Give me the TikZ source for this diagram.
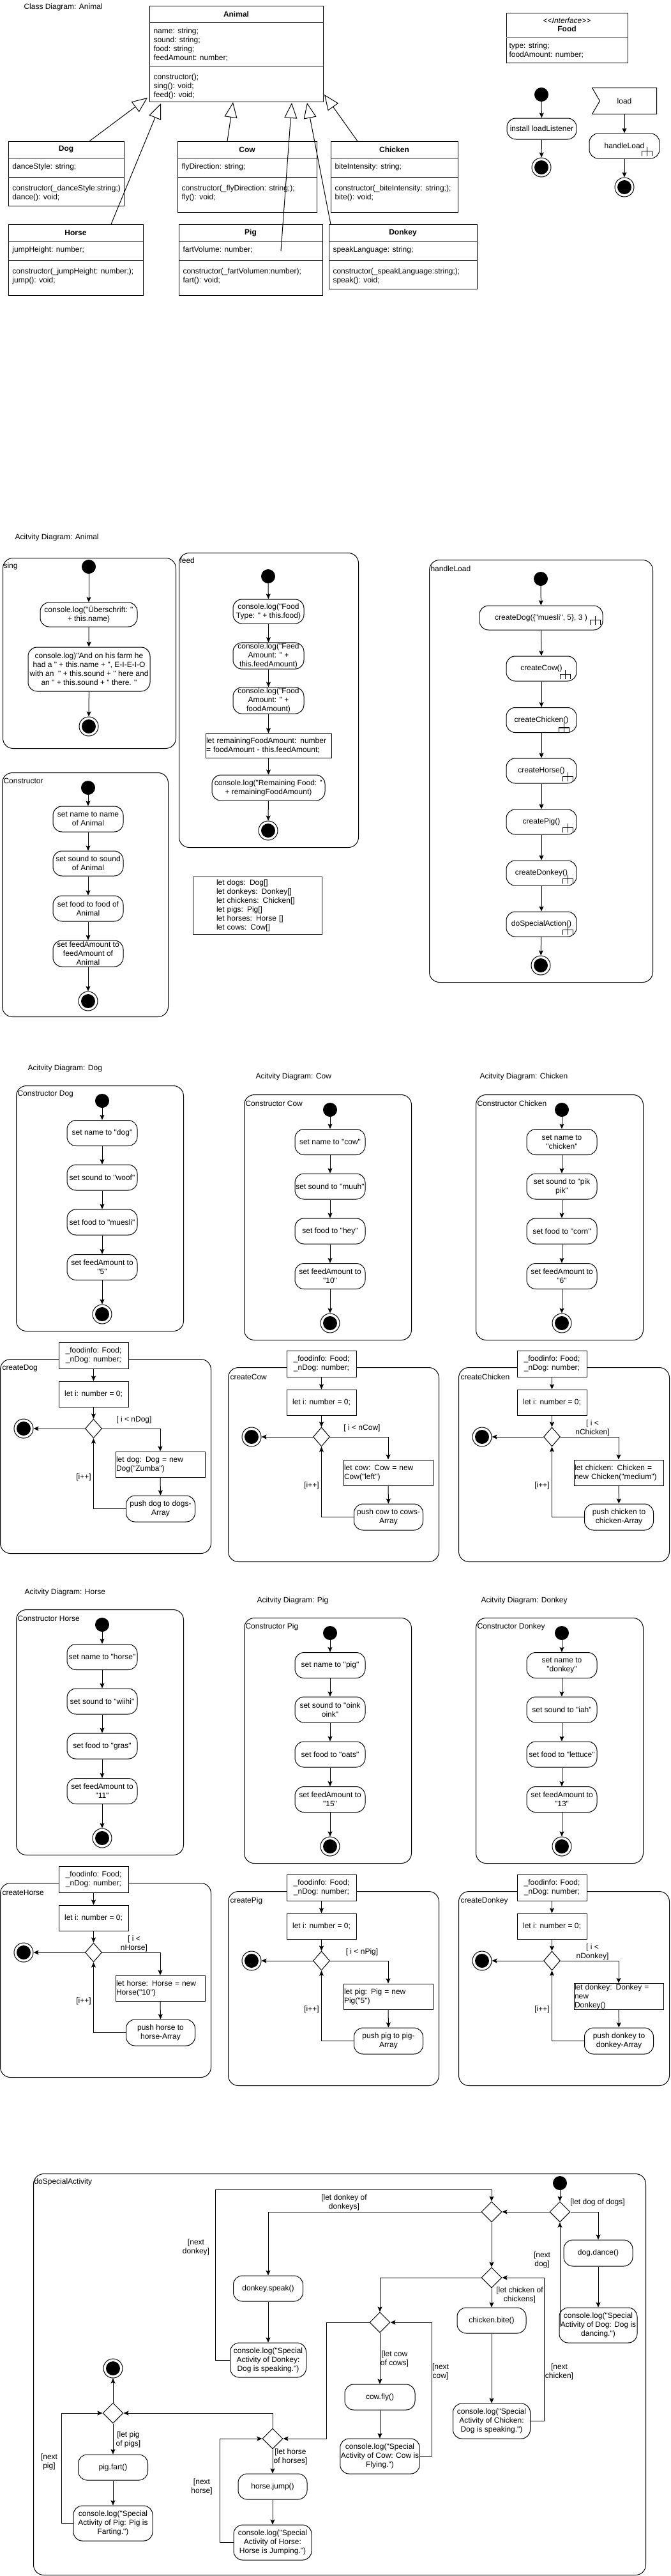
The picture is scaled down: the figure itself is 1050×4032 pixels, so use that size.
\documentclass[tikz,border=0pt]{standalone}
\usepackage{fontspec}
\newfontfamily\uifont{Liberation Sans}
\usetikzlibrary{arrows.meta,calc,shapes.geometric}

\newcommand\rakeat[1]{%
  \draw[line width=1.4pt] ($(#1)+(-8,0)$) -- ++(0,-7) -- ++(16,0) -- ++(0,7);
  \draw[line width=1.4pt] (#1) -- ++(0,-14);}

\newcommand\ctorblock[8]{%
  \node[frm, minimum width=262pt, minimum height=384pt, anchor=north west] (#1F) at (#2,#3) {};
  \node[anchor=west, inner sep=0] (#1L) at ({#2+2},{#3+14}) {#4};
  \node[startn] (#1S) at ({#2+135},{#3+24}) {};
  \node[act, minimum width=110pt, minimum height=40pt] (#1A) at ({#2+135},{#3+74.5}) {#5};
  \node[act, minimum width=110pt, minimum height=40pt] (#1B) at ({#2+135},{#3+144}) {#6};
  \node[act, minimum width=110pt, minimum height=40pt] (#1C) at ({#2+135},{#3+214}) {#7};
  \node[act, minimum width=110pt, minimum height=40pt] (#1D) at ({#2+135},{#3+284.5}) {#8};
  \node[endn] (#1E) at ({#2+135},{#3+358}) {};
  \draw[arr] (#1S) -- (#1A);
  \draw[arr] (#1A) -- (#1B);
  \draw[arr] (#1B) -- (#1C);
  \draw[arr] (#1C) -- (#1D);
  \draw[arr] (#1D) -- (#1E);}

\newcommand\createblock[7]{%
  \node[frm, minimum width=330pt, minimum height=304pt, anchor=north west] (#1F) at (#2,#3) {};
  \node[anchor=west, inner sep=0] (#1L) at ({#2+3},{#3+15}) {#4};
  \node[box, minimum width=109pt, minimum height=41pt] (#1P) at ({#2+146.5},{#3-5.5}) {\_foodinfo: Food;\\\_nDog: number;};
  \node[box, minimum width=109pt, minimum height=40pt] (#1I) at ({#2+146.5},{#3+55}) {let i: number = 0;};
  \node[dec] (#1D) at ({#2+146.5},{#3+109}) {};
  \node[endn] (#1E) at ({#2+37},{#3+109}) {};
  \node[box, minimum width=140pt, minimum height=40pt, text width=138pt, align=left] (#1N) at ({#2+251},{#3+165}) {#6};
  \node[act, minimum width=108pt, minimum height=41pt] (#1U) at ({#2+251.5},{#3+234.5}) {#7};
  \node[align=center, inner sep=0] (#1G) at ({#2+210},{#3+95}) {#5};
  \node[inner sep=0] (#1J) at ({#2+131},{#3+185}) {[i++]};
  \draw[arr] (#1P) -- (#1I);
  \draw[arr] (#1I) -- (#1D);
  \draw[arr] (#1D) -- (#1E);
  \draw[arr] (#1D.east) -| (#1N.north);
  \draw[arr] (#1N) -- (#1U);
  \draw[arr] (#1U.west) -| (#1D.south);}

\begin{document}
\uifont\fontsize{12}{14}\selectfont
\begin{tikzpicture}[x=1pt,y=-1pt, line width=1pt,
  arr/.style={-{Stealth[length=8pt,width=7pt,inset=1.5pt]}},
  gen/.style={-{Triangle[length=24pt,width=20pt,fill=white]}},
  act/.style={draw, rounded corners=14pt, align=center, inner sep=1pt, fill=white},
  box/.style={draw, align=center, inner sep=1pt, fill=white},
  frm/.style={draw, rounded corners=16pt, inner sep=0},
  cls/.style={draw, fill=white, anchor=north west, inner sep=0},
  txt/.style={anchor=west, align=left, inner sep=0},
  startn/.style={circle, fill=black, draw=black, minimum size=21pt, inner sep=0},
  endn/.style={circle, draw=black, fill=white, minimum size=30pt, inner sep=0,
    path picture={\fill[black] (path picture bounding box.center) circle[radius=11pt];}},
  dec/.style={diamond, draw, fill=white, minimum width=26pt, minimum height=30pt, inner sep=0},
  decb/.style={diamond, draw, fill=white, minimum width=32pt, minimum height=32pt, inner sep=0}]
\useasboundingbox (0,0) rectangle (1050,4032);

% ================= Class diagram =================
\node[txt] (t0) at (37,11) {Class Diagram: Animal};

\node[cls, minimum width=272pt, minimum height=150pt] (animal) at (234,9) {};
\draw (234,35) -- (506,35); \draw (234,103) -- (506,103);
\node[font=\bfseries, inner sep=0] (animalN) at (370,22) {Animal};
\node[txt] (animalA) at (240,69.5) {name: string;\\sound: string;\\food: string;\\feedAmount: number;};
\node[txt] (animalM) at (240,135) {constructor();\\sing(): void;\\feed(): void;};

\node[cls, minimum width=181pt, minimum height=101pt] (dog) at (13,221) {};
\draw (13,247) -- (194,247); \draw (13,277) -- (194,277);
\node[font=\bfseries, inner sep=0] (dogN) at (103.5,234) {Dog};
\node[txt] (dogA) at (19,261) {danceStyle: string;};
\node[txt] (dogM) at (19,302) {constructor(\_danceStyle:string;)\\dance(): void;};

\node[cls, minimum width=218pt, minimum height=111pt] (cow) at (278,221) {};
\draw (278,247) -- (496,247); \draw (278,277) -- (496,277);
\node[font=\bfseries, inner sep=0] (cowN) at (387,234) {Cow};
\node[txt] (cowA) at (284,261) {flyDirection: string;};
\node[txt] (cowM) at (284,302) {constructor(\_flyDirection: string;);\\fly(): void;};

\node[cls, minimum width=199pt, minimum height=111pt] (chicken) at (518,221) {};
\draw (518,247) -- (717,247); \draw (518,277) -- (717,277);
\node[font=\bfseries, inner sep=0] (chickenN) at (617.5,234) {Chicken};
\node[txt] (chickenA) at (524,261) {biteIntensity: string;};
\node[txt] (chickenM) at (524,302) {constructor(\_biteIntensity: string;);\\bite(): void;};

\node[cls, minimum width=211pt, minimum height=111pt] (horse) at (13,351) {};
\draw (13,377) -- (224,377); \draw (13,407) -- (224,407);
\node[font=\bfseries, inner sep=0] (horseN) at (118.5,364) {Horse};
\node[txt] (horseA) at (19,391) {jumpHeight: number;};
\node[txt] (horseM) at (19,432) {constructor(\_jumpHeight: number;);\\jump(): void;};

\node[cls, minimum width=225pt, minimum height=111pt] (pig) at (280,351) {};
\draw (280,377) -- (505,377); \draw (280,407) -- (505,407);
\node[font=\bfseries, inner sep=0] (pigN) at (392.5,364) {Pig};
\node[txt] (pigA) at (286,391) {fartVolume: number;};
\node[txt] (pigM) at (286,432) {constructor(\_fartVolumen:number);\\fart(): void;};

\node[cls, minimum width=232pt, minimum height=101pt] (donkey) at (515,351) {};
\draw (515,377) -- (747,377); \draw (515,407) -- (747,407);
\node[font=\bfseries, inner sep=0] (donkeyN) at (631,364) {Donkey};
\node[txt] (donkeyA) at (521,391) {speakLanguage: string;};
\node[txt] (donkeyM) at (521,432) {constructor(\_speakLanguage:string;);\\speak(): void;};

\coordinate (gDog) at (231,153);
\coordinate (gHorse) at (252,162);
\coordinate (gCow) at (365,160);
\coordinate (gPig) at (457,161);
\coordinate (gDonkey) at (481,161);
\coordinate (gChicken) at (508,148);
\draw[gen] ($(dog.north west)+(127,0)$) -- (gDog);
\draw[gen] ($(horse.north west)+(161,0)$) -- (gHorse);
\draw[gen] ($(cow.north west)+(78,0)$) -- (gCow);
\draw[gen] ($(pig.north west)+(160,42)$) -- (gPig);
\draw[gen] ($(donkey.north west)+(3,0)$) -- (gDonkey);
\draw[gen] ($(chicken.north west)+(42,0)$) -- (gChicken);

% Food interface
\node[cls, minimum width=190pt, minimum height=78pt] (food) at (793,20) {};
\draw[gray] (793,58) -- (983,58);
\node[font=\itshape, inner sep=0] (foodS) at (888,32) {<<Interface>>};
\node[font=\bfseries, inner sep=0] (foodN) at (888,45) {Food};
\node[txt] (foodA) at (797,79) {type: string;\\foodAmount: number;};

% load activity
\node[startn] (ldS) at (848,148) {};
\node[act, minimum width=109pt, minimum height=33pt] (ldA) at (848.5,201.5) {install loadListener};
\node[endn] (ldE) at (848,262) {};
\draw[arr] (ldS) -- (ldA);
\draw[arr] (ldA) -- (ldE);
\node[minimum width=100pt, minimum height=40pt, inner sep=0] (load) at (978,158) {load};
\draw (load.north west) -- (load.north east) -- (load.south east) -- (load.south west) -- ($(load.west)+(12,0)$) -- cycle;
\node[act, minimum width=110pt, minimum height=39pt] (hlN) at (978,228.5) {handleLoad};
\coordinate (hlNr) at ($(hlN.south east)+(-20,-5)$);
\rakeat{hlNr}
\node[endn] (hlNE) at (978,293) {};
\draw[arr] (load) -- (hlN);
\draw[arr] (hlN) -- (hlNE);

% ================= Activity Diagram: Animal =================
\node[txt] (t1) at (23,841) {Acitvity Diagram: Animal};

\node[frm, minimum width=271pt, minimum height=298pt, anchor=north west] (singF) at (4,873) {};
\node[txt] (singL) at (5,886) {sing};
\node[startn] (singS) at (139,887) {};
\node[act, minimum width=152pt, minimum height=38pt] (singA) at (139,962) {console.log("Überschrift: "\\+ this.name)};
\node[act, minimum width=191pt, minimum height=69pt] (singB) at (139.5,1047.5) {console.log)"And on his farm he\\had a " + this.name + ", E-I-E-I-O\\with an\ \ " + this.sound + " here and\\an " + this.sound + " there. "};
\node[endn] (singE) at (139,1137) {};
\draw[arr] (singS) -- (singA);
\draw[arr] (singA) -- (singB);
\draw[arr] (singB) -- (singE);

\node[frm, minimum width=281pt, minimum height=461pt, anchor=north west] (feedF) at (280,865) {};
\node[txt] (feedL) at (281,877) {feed};
\node[startn] (feedS) at (420,902) {};
\node[act, minimum width=111pt, minimum height=38pt] (feedA) at (420.5,957) {console.log("Food\\Type: " + this.food)};
\node[act, minimum width=111pt, minimum height=41pt] (feedB) at (420.5,1026.5) {console.log("Feed\\Amount: " +\\this.feedAmount)};
\node[act, minimum width=111pt, minimum height=39pt] (feedC) at (420.5,1096.5) {console.log("Food\\Amount: " +\\foodAmount)};
\node[box, minimum width=197pt, minimum height=38pt, text width=195pt, align=left] (feedD) at (420.5,1167) {let remainingFoodAmount: number\\= foodAmount - this.feedAmount;};
\node[act, minimum width=177pt, minimum height=40pt] (feedE) at (420.5,1233) {console.log("Remaining Food: "\\+ remainingFoodAmount)};
\node[endn] (feedZ) at (420,1300) {};
\draw[arr] (feedS) -- (feedA);
\draw[arr] (feedA) -- (feedB);
\draw[arr] (feedB) -- (feedC);
\draw[arr] (feedC) -- (feedD);
\draw[arr] (feedD) -- (feedE);
\draw[arr] (feedE) -- (feedZ);

\node[frm, minimum width=260pt, minimum height=382pt, anchor=north west] (ctF) at (3,1209) {};
\node[txt] (ctL) at (5,1222) {Constructor};
\node[startn] (ctS) at (138,1233) {};
\node[act, minimum width=110pt, minimum height=40pt] (ctA) at (138,1282) {set name to name\\of Animal};
\node[act, minimum width=110pt, minimum height=39pt] (ctB) at (138,1351.5) {set sound to sound\\of Animal};
\node[act, minimum width=110pt, minimum height=40pt] (ctC) at (138,1422) {set food to food of\\Animal};
\node[act, minimum width=110pt, minimum height=41pt] (ctD) at (138,1492.5) {set feedAmount to\\feedAmount of\\Animal};
\node[endn] (ctE) at (138,1567) {};
\draw[arr] (ctS) -- (ctA);
\draw[arr] (ctA) -- (ctB);
\draw[arr] (ctB) -- (ctC);
\draw[arr] (ctC) -- (ctD);
\draw[arr] (ctD) -- (ctE);

\node[box, minimum width=202pt, minimum height=90pt, text width=128pt, align=left] (lists) at (403,1417) {let dogs: Dog[]\\let donkeys: Donkey[]\\let chickens: Chicken[]\\let pigs: Pig[]\\let horses: Horse []\\let cows: Cow[]};

\node[frm, minimum width=350pt, minimum height=661pt, anchor=north west] (hlFr) at (672,876) {};
\node[txt] (hlL) at (674,890) {handleLoad};
\node[startn] (hlS) at (847,906) {};
\node[act, minimum width=193pt, minimum height=38pt] (hlA) at (847.5,967) {createDog(\{"muesli", 5\}, 3 )};
\node[act, minimum width=110pt, minimum height=39pt] (hlB) at (848,1046.5) {createCow()};
\node[act, minimum width=110pt, minimum height=39pt] (hlC) at (848,1127) {createChicken()};
\node[act, minimum width=110pt, minimum height=39pt] (hlD) at (848,1206.5) {createHorse()};
\node[act, minimum width=110pt, minimum height=39pt] (hlE) at (848,1286.5) {createPig()};
\node[act, minimum width=110pt, minimum height=39pt] (hlG) at (848,1366.5) {createDonkey()};
\node[act, minimum width=110pt, minimum height=39pt] (hlH) at (848,1446.5) {doSpecialAction()};
\node[endn] (hlZ) at (847,1511) {};
\draw[arr] (hlS) -- (hlA);
\draw[arr] (hlA) -- (hlB);
\draw[arr] (hlB) -- (hlC);
\draw[arr] (hlC) -- (hlD);
\draw[arr] (hlD) -- (hlE);
\draw[arr] (hlE) -- (hlG);
\draw[arr] (hlG) -- (hlH);
\draw[arr] (hlH) -- (hlZ);
\coordinate (rA) at ($(hlA.south east)+(-12,-9)$); \rakeat{rA}
\coordinate (rB) at ($(hlB.south east)+(-18,-4)$); \rakeat{rB}
\coordinate (rC) at ($(hlC.south east)+(-20,-1)$); \rakeat{rC}
\coordinate (rD) at ($(hlD.south east)+(-14,-4)$); \rakeat{rD}
\coordinate (rE) at ($(hlE.south east)+(-14,-4)$); \rakeat{rE}
\coordinate (rG) at ($(hlG.south east)+(-14,-4)$); \rakeat{rG}
\coordinate (rH) at ($(hlH.south east)+(-14,-4)$); \rakeat{rH}

% ================= Dog / Cow / Chicken =================
\node[txt] (tDog) at (43,1672) {Acitvity Diagram: Dog};
\node[txt] (tCow) at (400,1685) {Acitvity Diagram: Cow};
\node[txt] (tChicken) at (751,1685) {Acitvity Diagram: Chicken};

\ctorblock{cdog}{25}{1699}{Constructor Dog}{set name to "dog"}{set sound to "woof"}{set food to "muesli"}{set feedAmount to\\"5"}
\ctorblock{ccow}{382}{1713}{Constructor Cow}{set name to "cow"}{set sound to "muuh"}{set food to "hey"}{set feedAmount to\\"10"}
\ctorblock{cchk}{745}{1713}{Constructor Chicken}{set name to\\"chicken"}{set sound to "pik\\pik"}{set food to "corn"}{set feedAmount to\\"6"}

\createblock{kdog}{0}{2127}{createDog}{[ i < nDog]}{let dog: Dog = new\\Dog("Zumba")}{push dog to dogs-\\Array}
\createblock{kcow}{357}{2140}{createCow}{[ i < nCow]}{let cow: Cow = new\\Cow("left")}{push cow to cows-\\Array}
\createblock{kchk}{718}{2140}{createChicken}{[ i <\\nChicken]}{let chicken: Chicken =\\new Chicken("medium")}{push chicken to\\chicken-Array}

% ================= Horse / Pig / Donkey =================
\node[txt] (tHorse) at (38,2492) {Acitvity Diagram: Horse};
\node[txt] (tPig) at (402,2505) {Acitvity Diagram: Pig};
\node[txt] (tDonkey) at (753,2505) {Acitvity Diagram: Donkey};

\ctorblock{chrs}{25}{2519}{Constructor Horse}{set name to "horse"}{set sound to "wiihi"}{set food to "gras"}{set feedAmount to\\"11"}
\ctorblock{cpig}{382}{2532}{Constructor Pig}{set name to "pig"}{set sound to "oink\\oink"}{set food to "oats"}{set feedAmount to\\"15"}
\ctorblock{cdky}{745}{2532}{Constructor Donkey}{set name to\\"donkey"}{set sound to "iah"}{set food to "lettuce"}{set feedAmount to\\"13"}

\createblock{khrs}{0}{2947}{createHorse}{[ i <\\nHorse]}{let horse: Horse = new\\Horse("10")}{push horse to\\horse-Array}
\createblock{kpig}{357}{2960}{createPig}{[ i < nPig]}{let pig: Pig = new Pig("5")}{push pig to pig-\\Array}
\createblock{kdky}{718}{2960}{createDonkey}{[ i <\\nDonkey]}{let donkey: Donkey = new\\Donkey()}{push donkey to\\donkey-Array}

% ================= doSpecialActivity =================
\node[frm, minimum width=959pt, minimum height=628pt, anchor=north west] (dsF) at (52,3402) {};
\node[txt] (dsL) at (53,3415) {doSpecialActivity};
\node[startn] (ds0) at (877,3417) {};
\node[decb] (d1) at (877,3462) {};
\draw[arr] (ds0) -- (d1);
\node[inner sep=0] (lbDog) at (936,3447) {[let dog of dogs]};
\node[act, minimum width=108pt, minimum height=41pt] (dance) at (937,3526.5) {dog.dance()};
\node[act, minimum width=122pt, minimum height=55pt] (dogc) at (937,3639.5) {console.log("Special\\Activity of Dog: Dog is\\dancing.")};
\draw[arr] (d1.east) -| (dance.north);
\draw[arr] (dance) -- (dogc);
\draw[arr] (d1 |- dogc.west) -- (d1.south);
\node[align=center, inner sep=0] (lbnDog) at (849,3537) {[next\\dog]};

\node[decb] (d2) at (770,3462) {};
\draw[arr] (d1.west) -- (d2.east);
\node[align=center, inner sep=0] (lbDk) at (539,3447) {[let donkey of\\donkeys]};
\node[act, minimum width=109pt, minimum height=40pt] (speak) at (420,3582) {donkey.speak()};
\node[act, minimum width=119pt, minimum height=54pt] (dkc) at (420,3694) {console.log("Special\\Activity of Donkey:\\Dog is speaking.")};
\draw[arr] (d2.west) -| (speak.north);
\draw[arr] (speak) -- (dkc);
\coordinate (dkl) at (337,3427);
\draw[arr] (dkc.west) -| (dkl) -| (d2.north);
\node[align=center, inner sep=0] (lbnDk) at (307,3517) {[next\\donkey]};

\node[decb] (d3) at (770,3565) {};
\draw[arr] (d2) -- (d3);
\node[align=center, inner sep=0] (lbCh) at (814,3592) {[let chicken of\\chickens]};
\node[act, minimum width=108pt, minimum height=40pt] (bite) at (770,3632) {chicken.bite()};
\node[act, minimum width=121pt, minimum height=55pt] (chc) at (770,3789.5) {console.log("Special\\Activity of Chicken:\\Dog is speaking.")};
\draw[arr] (d3) -- (bite);
\draw[arr] (bite) -- (chc);
\coordinate (chr) at (852,3565);
\draw[arr] (chc.east) -| (chr) -- (d3.east);
\node[align=center, inner sep=0] (lbnCh) at (876,3712) {[next\\chicken]};

\node[decb] (d4) at (595,3635) {};
\draw[arr] (d3.west) -| (d4.north);
\node[align=center, inner sep=0] (lbCw) at (618,3692) {[let cow\\of cows]};
\node[act, minimum width=110pt, minimum height=40pt] (fly) at (595,3752) {cow.fly()};
\node[act, minimum width=124pt, minimum height=55pt] (cwc) at (595,3844.5) {console.log("Special\\Activity of Cow: Cow is\\Flying.")};
\draw[arr] (d4) -- (fly);
\draw[arr] (fly) -- (cwc);
\coordinate (cwr) at (676,3635);
\draw[arr] (cwc.east) -| (cwr) -- (d4.east);
\node[align=center, inner sep=0] (lbnCw) at (690,3712) {[next\\cow]};

\node[decb] (d5) at (427,3817) {};
\coordinate (d4l) at (511,3635);
\draw[arr] (d4.west) -- (d4l) |- (d5.east);
\node[align=center, inner sep=0] (lbHs) at (455,3845) {[let horse\\of horses]};
\node[act, minimum width=108pt, minimum height=40pt] (jump) at (427,3892) {horse.jump()};
\node[act, minimum width=122pt, minimum height=55pt] (hsc) at (427,3979.5) {console.log("Special\\Activity of Horse:\\Horse is Jumping.")};
\draw[arr] (d5) -- (jump);
\draw[arr] (jump) -- (hsc);
\coordinate (hsl) at (344,3817);
\draw[arr] (hsc.west) -| (hsl) -- (d5.west);
\node[align=center, inner sep=0] (lbnHs) at (316,3892) {[next\\horse]};

\node[decb] (d6) at (177,3777) {};
\draw[arr] (d5.north) |- (d6.east);
\node[endn] (dsEnd) at (177,3707) {};
\draw[arr] (d6) -- (dsEnd);
\node[align=center, inner sep=0] (lbPg) at (201,3818) {[let pig\\of pigs]};
\node[act, minimum width=109pt, minimum height=40pt] (fart) at (177,3862) {pig.fart()};
\node[act, minimum width=124pt, minimum height=55pt] (pgc) at (177,3949.5) {console.log("Special\\Activity of Pig: Pig is\\Farting.")};
\draw[arr] (d6) -- (fart);
\draw[arr] (fart) -- (pgc);
\coordinate (pgl) at (96,3777);
\draw[arr] (pgc.west) -| (pgl) -- (d6.west);
\node[align=center, inner sep=0] (lbnPg) at (77,3853) {[next\\pig]};
\end{tikzpicture}
\end{document}
